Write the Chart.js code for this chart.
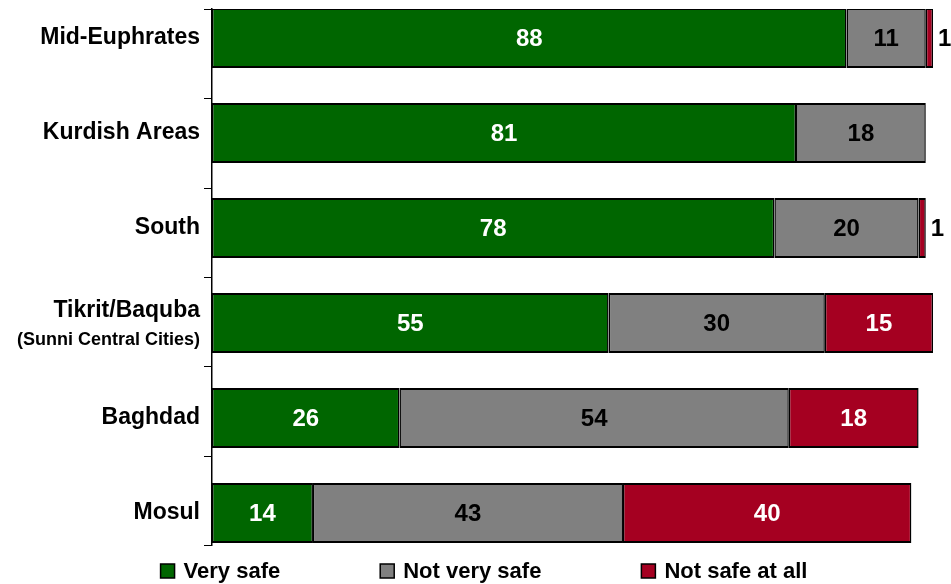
<!DOCTYPE html>
<html>
<head>
<meta charset="utf-8">
<script src="https://cdn.jsdelivr.net/npm/chart.js@4.4.0/dist/chart.umd.min.js"></script>
<style>
  html, body { margin: 0; padding: 0; background: #fff; }
  #wrap { width: 951px; height: 584px; position: relative; }
</style>
</head>
<body>
<div id="wrap"><canvas id="myChart"></canvas></div>
<script>
// data
const regions = ["Mid-Euphrates", "Kurdish Areas", "South", "Tikrit/Baquba", "Baghdad", "Mosul"];
const regionNotes = ["", "", "", "(Sunni Central Cities)", "", ""];
const verySafe = [88, 81, 78, 55, 26, 14];
const notVerySafe = [11, 18, 20, 30, 54, 43];
const notSafeAtAll = [1, null, 1, 15, 18, 40];

const FONT = "'Liberation Sans', Arial, Helvetica, sans-serif";

function toPoints(arr) {
  return arr.map((v, i) => ({ x: v, y: i }));
}

function makeSet(label, values, color, textColor) {
  return {
    label: label,
    data: toPoints(values),
    backgroundColor: color,
    borderColor: "#000",
    borderWidth: { top: 2, bottom: 2, left: 1.5, right: 1.5 },
    borderSkipped: false,
    barPercentage: 0.63,
    categoryPercentage: 1,
    textColor: textColor,
  };
}

// value labels on the bars
const valueLabels = {
  id: "valueLabels",
  afterDatasetsDraw(chart) {
    const ctx = chart.ctx;
    ctx.save();
    ctx.font = "bold 24px " + FONT;
    ctx.textBaseline = "middle";
    chart.data.datasets.forEach((ds, di) => {
      chart.getDatasetMeta(di).data.forEach((bar, i) => {
        const v = ds.data[i].x;
        if (v == null) return;
        if (v < 3) {
          ctx.fillStyle = "#000";
          ctx.textAlign = "left";
          ctx.fillText(v, bar.x + 5, bar.y + 1);
        } else {
          ctx.fillStyle = ds.textColor;
          ctx.textAlign = "center";
          ctx.fillText(v, (bar.x + bar.base) / 2, bar.y + 1);
        }
      });
    });
    ctx.restore();
  },
};

// tick marks between categories, second label line, legend
const extras = {
  id: "extras",
  afterDraw(chart) {
    const ctx = chart.ctx;
    const y = chart.scales.y;
    const area = chart.chartArea;
    ctx.save();

    ctx.strokeStyle = "#000";
    ctx.lineWidth = 1;
    for (let i = 0; i <= regions.length; i++) {
      const py = Math.round(area.top + (i * (area.bottom - area.top)) / regions.length) + 0.5;
      ctx.beginPath();
      ctx.moveTo(y.right - 8, py);
      ctx.lineTo(y.right, py);
      ctx.stroke();
    }

    ctx.fillStyle = "#000";
    ctx.font = "bold 18px " + FONT;
    ctx.textAlign = "right";
    ctx.textBaseline = "middle";
    regionNotes.forEach((note, i) => {
      if (!note) return;
      ctx.fillText(note, y.right - 12, y.getPixelForValue(i) + 17);
    });

    // legend
    ctx.font = "bold 22px " + FONT;
    ctx.textAlign = "left";
    const box = 14, gapText = 9, gapItem = 100;
    const items = chart.data.datasets.map(ds => ({
      label: ds.label,
      color: ds.backgroundColor,
      w: box + gapText + ctx.measureText(ds.label).width,
    }));
    const total = items.reduce((s, it) => s + it.w, 0) + gapItem * (items.length - 1);
    let lx = 484 - total / 2;
    const ly = 571;
    items.forEach(it => {
      ctx.fillStyle = it.color;
      ctx.fillRect(lx, ly - box / 2, box, box);
      ctx.strokeStyle = "#000";
      ctx.lineWidth = 1.5;
      ctx.strokeRect(lx, ly - box / 2, box, box);
      ctx.fillStyle = "#000";
      ctx.fillText(it.label, lx + box + gapText, ly + 1);
      lx += it.w + gapItem;
    });

    ctx.restore();
  },
};

document.addEventListener("DOMContentLoaded", function () {
  const ctx = document.getElementById("myChart").getContext("2d");

  new Chart(ctx, {
    type: "bar",
    data: {
      datasets: [
        makeSet("Very safe", verySafe, "#006600", "#fff"),
        makeSet("Not very safe", notVerySafe, "#808080", "#000"),
        makeSet("Not safe at all", notSafeAtAll, "#A50021", "#fff"),
      ],
    },
    options: {
      indexAxis: "y",
      responsive: true,
      maintainAspectRatio: false,
      animation: false,
      layout: {
        padding: { top: 9, bottom: 39, right: 18, left: 0 },
      },
      plugins: {
        legend: { display: false },
        tooltip: { enabled: false },
      },
      scales: {
        x: {
          type: "linear",
          stacked: true,
          min: 0,
          max: 100,
          display: false,
        },
        y: {
          type: "linear",
          stacked: true,
          reverse: true,
          offset: false,
          min: -0.305,
          max: 5.337,
          afterBuildTicks(scale) {
            scale.ticks = regions.map((r, i) => ({ value: i }));
          },
          afterFit(scale) {
            scale.width = 212;
            scale.paddingTop = 0;
            scale.paddingBottom = 0;
          },
          grid: { display: true, drawOnChartArea: false, drawTicks: false },
          border: { display: true, color: "#000", width: 1.5 },
          ticks: {
            padding: 12,
            color: "#000",
            font: { family: FONT, size: 23, weight: "bold", lineHeight: 1.1 },
            callback: function (value) {
              const i = Math.round(value);
              return regionNotes[i] ? [regions[i], ""] : regions[i];
            },
          },
        },
      },
    },
    plugins: [valueLabels, extras],
  });
});
</script>
</body>
</html>
